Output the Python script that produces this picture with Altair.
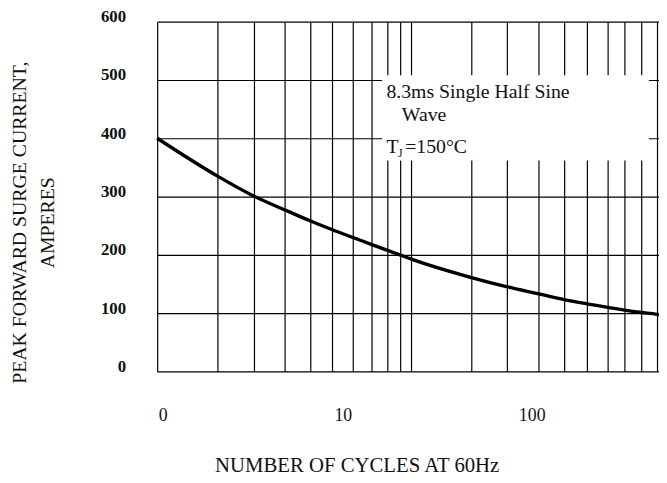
import altair as alt
import pandas as pd

# ---- data (x in "decade units" of the drawn grid) ----
curve_u = [0.0, 0.238, 0.380, 0.504, 0.605, 0.691, 0.771, 0.844, 0.906, 0.957,
           1.000, 1.239, 1.381, 1.504, 1.605, 1.694, 1.777, 1.843, 1.909, 1.971, 1.979]
curve_amps = [400, 335, 301, 277, 258, 243, 230, 218, 208, 200,
              193, 161, 145, 133, 123, 116, 110, 105, 101, 98, 97]

grid_x = [0.0, 0.238, 0.380, 0.504, 0.605, 0.691, 0.771, 0.844, 0.906, 0.958,
          1.000, 1.239, 1.381, 1.504, 1.605, 1.694, 1.777, 1.843, 1.909, 1.971]
grid_y = [0, 100, 200, 300, 400, 500, 600]

x_label_pos = [0.022, 0.732, 1.477]
x_label_text = ["0", "10", "100"]

note_box_u = [0.887]
note_box_u2 = [1.939]
note_box_top = [508]
note_box_bottom = [362]

note_text = ["8.3ms Single Half Sine", "Wave", "T", "J", "=150°C"]
note_u = [0.904, 0.965, 0.904, 0.950, 0.978]
note_amps = [469, 429, 374, 368, 374]
note_size = [20, 20, 20, 12, 20]

X_MAX = 1.979
FONT = "Liberation Serif"

curve_df = pd.DataFrame({"u": curve_u, "amps": curve_amps})
box_df = pd.DataFrame({"u": note_box_u, "u2": note_box_u2,
                       "top": note_box_top, "bottom": note_box_bottom})
note_df = pd.DataFrame({"u": note_u, "amps": note_amps, "txt": note_text, "fs": note_size})

x_scale = alt.Scale(domain=[0, X_MAX], nice=False, zero=False)
y_scale = alt.Scale(domain=[0, 600], nice=False)

label_expr = "[" + ",".join("'%s'" % t for t in x_label_text) + "][indexof([" + \
    ",".join(str(v) for v in x_label_pos) + "], datum.value)]"

grid_axis = alt.Axis(values=grid_x, grid=True, labels=False, ticks=False, domain=False,
                     orient="bottom", title=None, gridColor="#000000", gridWidth=1.2,
                     gridOpacity=1)

label_axis = alt.Axis(values=x_label_pos, labelExpr=label_expr, grid=False, ticks=False,
                      tickSize=0, domain=False, orient="bottom",
                      labelFont=FONT, labelFontSize=18,
                      labelColor="#111111", labelBaseline="top", labelPadding=36,
                      labelAlign="center", labelFlush=False,
                      title="NUMBER OF CYCLES AT 60Hz", titleFont=FONT, titleFontSize=21,
                      titleFontWeight="normal", titleColor="#111111",
                      titleX=202, titleY=101, titleAlign="center",
                      titleBaseline="alphabetic", titleAnchor="start")

y_axis = alt.Axis(values=grid_y, grid=True, gridColor="#000000", gridWidth=1.2, gridOpacity=1,
                  ticks=False, tickSize=0, domain=False, orient="left",
                  labelFont=FONT, labelFontSize=17, labelFontWeight="bold",
                  labelColor="#111111", labelPadding=32, labelOffset=-5,
                  labelBaseline="middle",
                  title=["PEAK FORWARD SURGE CURRENT,", "AMPERES"],
                  titleFont=FONT, titleFontSize=20, titleFontWeight="normal",
                  titleColor="#111111", titleAngle=270, titleX=-133, titleY=203,
                  titleAlign="center", titleBaseline="alphabetic", titleLineHeight=28)

curve = alt.Chart(curve_df).mark_line(color="black", strokeWidth=3.4,
                                      interpolate="monotone").encode(
    x=alt.X("u:Q", scale=x_scale, axis=grid_axis),
    y=alt.Y("amps:Q", scale=y_scale, axis=y_axis),
)

box = alt.Chart(box_df).mark_rect(color="white", opacity=1).encode(
    x=alt.X("u:Q", scale=x_scale, axis=label_axis),
    x2="u2:Q",
    y=alt.Y("top:Q", scale=y_scale, axis=y_axis),
    y2="bottom:Q",
)

notes = alt.Chart(note_df).mark_text(font=FONT, color="#111111", align="left",
                                     baseline="alphabetic").encode(
    x=alt.X("u:Q", scale=x_scale, axis=None),
    y=alt.Y("amps:Q", scale=y_scale, axis=y_axis),
    text="txt:N",
    size=alt.Size("fs:Q", scale=None, legend=None),
)

chart = alt.layer(curve, box, notes).resolve_axis(x="independent").properties(
    width=508, height=354,
    padding={"left": 151, "top": 11, "right": 0, "bottom": 102},
    autosize=alt.AutoSizeParams(type="none"),
    background="white",
).configure_view(stroke=None)

chart.save("out.html", embed_options={"renderer": "svg", "actions": False})
